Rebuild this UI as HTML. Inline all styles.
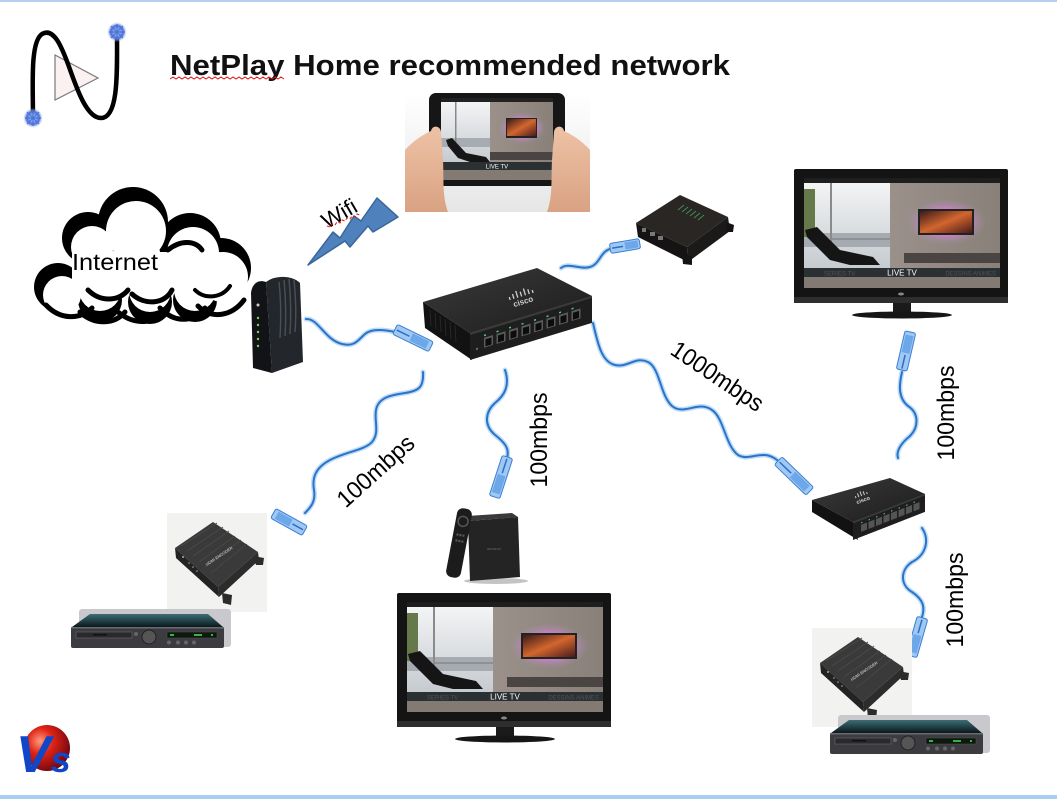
<!DOCTYPE html>
<html><head><meta charset="utf-8">
<style>
html,body{margin:0;padding:0;background:#fff;}
svg{display:block;}
text{font-family:"Liberation Sans",sans-serif;}
</style></head><body>
<svg width="1057" height="799" viewBox="0 0 1057 799" xmlns="http://www.w3.org/2000/svg">
<defs>
 <radialGradient id="star" cx="50%" cy="50%" r="50%">
  <stop offset="0" stop-color="#ffffff"/>
  <stop offset="0.3" stop-color="#8fb0f2"/>
  <stop offset="0.65" stop-color="#4a6fd8"/>
  <stop offset="1" stop-color="#c8d6f8" stop-opacity="0"/>
 </radialGradient>
 <radialGradient id="ball" cx="35%" cy="35%" r="70%">
  <stop offset="0" stop-color="#ff9a80"/>
  <stop offset="0.4" stop-color="#e02414"/>
  <stop offset="1" stop-color="#6e0612"/>
 </radialGradient>
 <linearGradient id="win" x1="0" y1="0" x2="0" y2="1">
  <stop offset="0" stop-color="#f3f4f5"/>
  <stop offset="1" stop-color="#c6cbd0"/>
 </linearGradient>
 <linearGradient id="wall" x1="0" y1="0" x2="1" y2="0">
  <stop offset="0" stop-color="#a89e97"/>
  <stop offset="1" stop-color="#8a807a"/>
 </linearGradient>
 <radialGradient id="glow" cx="50%" cy="50%" r="50%">
  <stop offset="0.45" stop-color="#e27ae6"/>
  <stop offset="1" stop-color="#a090a0" stop-opacity="0"/>
 </radialGradient>
 <linearGradient id="tvimg" x1="0" y1="0" x2="1" y2="1">
  <stop offset="0" stop-color="#3a1a18"/>
  <stop offset="0.5" stop-color="#d2662e"/>
  <stop offset="1" stop-color="#4a1c1c"/>
 </linearGradient>
 <linearGradient id="dvdtop" x1="0" y1="0" x2="0" y2="1">
  <stop offset="0" stop-color="#3d6d75"/>
  <stop offset="1" stop-color="#0a181c"/>
 </linearGradient>
 <linearGradient id="swtop" x1="0" y1="0" x2="1" y2="1">
  <stop offset="0" stop-color="#3a3a3a"/>
  <stop offset="1" stop-color="#1c1c1c"/>
 </linearGradient>
 <linearGradient id="tabbg" x1="0" y1="0" x2="0" y2="1">
  <stop offset="0" stop-color="#ffffff"/>
  <stop offset="1" stop-color="#e6e6e6"/>
 </linearGradient>
 <linearGradient id="skin" x1="0" y1="0" x2="0" y2="1">
  <stop offset="0" stop-color="#eec2a6"/>
  <stop offset="1" stop-color="#d9a283"/>
 </linearGradient>
</defs>

<!-- borders -->
<rect x="0" y="0" width="1057" height="2" fill="#b3d0f0"/>
<rect x="0" y="795" width="1057" height="4" fill="#a9cdf3"/>

<!-- top-left logo -->
<polygon points="55,55 55,100 98,78" fill="#fcf1f1" stroke="#7a7a7a" stroke-width="1.2"/>
<path d="M33,118 C33,85 30,42 42,34 C54,27 62,48 68,64 C76,86 86,118 101,118 C119,118 117,70 117,32" fill="none" stroke="#000" stroke-width="4.5" stroke-linecap="round"/>
<circle cx="117" cy="32" r="10" fill="url(#star)"/>
<circle cx="33" cy="118" r="10" fill="url(#star)"/>
<g stroke="#4a6fd8" stroke-width="1.2">
 <path d="M117,24 V40 M109,32 H125 M111,26 L123,38 M123,26 L111,38"/>
 <path d="M33,110 V126 M25,118 H41 M27,112 L39,124 M39,112 L27,124"/>
</g>

<!-- title -->
<text x="170" y="75" font-size="29" font-weight="bold" fill="#111" textLength="560" lengthAdjust="spacingAndGlyphs">NetPlay Home recommended network</text>
<path d="M170,79 l3,-2 3,2 3,-2 3,2 3,-2 3,2 3,-2 3,2 3,-2 3,2 3,-2 3,2 3,-2 3,2 3,-2 3,2 3,-2 3,2 3,-2 3,2 3,-2 3,2 3,-2 3,2 3,-2 3,2 3,-2 3,2 3,-2 3,2 3,-2 3,2 3,-2 3,2 3,-2 3,2 3,-2 3,2" fill="none" stroke="#e01010" stroke-width="1"/>

<!-- tablet -->
<rect x="405" y="93" width="185" height="119" fill="url(#tabbg)"/>
<rect x="429" y="93" width="136" height="93" rx="7" fill="#161616"/>
<rect x="441" y="98" width="112" height="82" fill="url(#wall)"/>
<rect x="441" y="102" width="49" height="60" fill="url(#win)"/>
<rect x="441" y="138" width="49" height="9" fill="#a6acb2"/>
<rect x="455" y="102" width="1.5" height="50" fill="#888"/>
<rect x="441" y="98" width="112" height="4" fill="#222"/>
<rect x="498" y="112" width="48" height="32" fill="url(#glow)"/>
<rect x="506" y="118" width="31" height="20" fill="#222"/>
<rect x="507" y="119" width="29" height="17" fill="url(#tvimg)"/>
<path d="M446,140 L452,138 L466,153 L486,157 L490,162 L470,162 L458,158 L448,146 Z" fill="#161616"/>
<rect x="490" y="152" width="63" height="8" fill="#4a4542"/>
<rect x="441" y="162" width="112" height="8" fill="#2b3033"/>
<text x="497" y="168.5" font-size="6" fill="#fff" text-anchor="middle">LIVE TV</text>
<rect x="441" y="170" width="112" height="10" fill="#847a74"/>
<path d="M405,150 C414,140 424,134 431,131 C432,125 440,125 441,132 L443,160 C444,178 442,196 448,212 L405,212 Z" fill="url(#skin)"/>
<path d="M590,150 C581,140 571,134 564,131 C563,125 555,125 554,132 L552,160 C551,178 553,196 547,212 L590,212 Z" fill="url(#skin)"/>

<!-- cloud -->
<g>
 <g fill="#000">
  <circle cx="133" cy="222" r="35"/>
  <circle cx="190" cy="244" r="31"/>
  <circle cx="221" cy="268" r="30"/>
  <circle cx="88" cy="238" r="26"/>
  <circle cx="58" cy="287" r="24"/>
  <circle cx="100" cy="300" r="22"/>
  <circle cx="150" cy="302" r="22"/>
  <circle cx="195" cy="300" r="22"/>
 </g>
 <g fill="#fff">
  <circle cx="136" cy="231" r="30"/>
  <circle cx="193" cy="253" r="26"/>
  <circle cx="223" cy="277" r="25"/>
  <circle cx="92" cy="247" r="21"/>
  <circle cx="62" cy="295" r="19"/>
  <circle cx="100" cy="290" r="21"/>
  <circle cx="150" cy="291" r="21"/>
  <circle cx="195" cy="290" r="21"/>
  <rect x="72" y="252" width="148" height="40"/>
 </g>
 <g fill="none" stroke="#000" stroke-linecap="round">
  <path d="M46,305 C60,320 80,320 92,308" stroke-width="5"/>
  <path d="M80,312 C95,326 115,324 125,312" stroke-width="5"/>
  <path d="M118,312 C135,326 155,324 165,310" stroke-width="5"/>
  <path d="M160,308 C175,324 195,322 205,308" stroke-width="5"/>
  <path d="M198,306 C212,320 232,316 244,300" stroke-width="5"/>
  <path d="M88,290 C100,302 118,302 128,290" stroke-width="5"/>
  <path d="M132,294 C145,306 165,304 172,290" stroke-width="5"/>
  <path d="M168,250 C180,240 195,240 202,250" stroke-width="5"/>
  <path d="M195,290 C205,300 222,298 230,286" stroke-width="4"/>
 </g>
 <text x="72" y="270" font-size="23" fill="#000" textLength="86" lengthAdjust="spacingAndGlyphs">Internet</text>
</g>

<!-- wifi bolt -->
<polygon points="308,265 333,232 340,238 354,216 361,221 377,198 398,217 373,232 368,226 350,247 345,241" fill="#4f81bd" stroke="#3a6699" stroke-width="1.5" stroke-linejoin="round"/>
<text transform="translate(343,220) rotate(-30)" x="0" y="0" font-size="22" text-anchor="middle" fill="#000" textLength="37" lengthAdjust="spacingAndGlyphs">Wifi</text>
<path d="M327,226 l3,1 2,-3 3,1 2,-3 3,1 2,-3 3,1 2,-3 3,1 2,-3 3,1 2,-3 3,1" fill="none" stroke="#e01010" stroke-width="1" stroke-dasharray="3,2"/>

<!-- modem -->
<path d="M266,282 C275,275 292,275 300,283 L303,362 L272,373 Z" fill="#23272c"/>
<path d="M251,293 C252,284 258,279 266,282 L272,373 L253,368 Z" fill="#111316"/>
<g stroke="#4a4f57" stroke-width="1.4" fill="none">
 <path d="M279,282 C281,300 281,320 280,338"/>
 <path d="M284,280 C286,300 286,320 285,336"/>
 <path d="M289,279 C291,300 291,320 290,334"/>
 <path d="M294,280 C296,300 296,320 295,332"/>
</g>
<g fill="#7fcf5a">
 <circle cx="258" cy="318" r="1.2"/><circle cx="258" cy="325" r="1.2"/>
 <circle cx="258" cy="332" r="1.2"/><circle cx="258" cy="339" r="1.2"/><circle cx="258" cy="346" r="1.2"/>
</g>
<circle cx="258" cy="305" r="1.5" fill="#ccc"/>

<!-- cables -->
<g fill="none" stroke-linecap="round">
 <g stroke="#a9d0f5" stroke-width="5" opacity="0.75">
  <path d="M306,319 C318,318 325,340 342,344 C355,347 358,340 365,334 C372,328 385,330 395,332"/>
  <path d="M423,372 C424,388 418,391 405,393 C390,395 378,398 376,410 C374,422 380,432 372,442 C365,450 345,452 330,460 C315,468 312,478 314,490 C316,502 310,508 305,513"/>
  <path d="M505,370 C510,385 505,395 495,403 C485,412 484,425 494,434 C504,442 510,448 507,458"/>
  <path d="M593,323 C598,345 602,362 615,365 C628,368 635,356 648,362 C660,368 660,395 672,406 C684,416 698,400 712,410 C724,418 725,445 738,455 C750,462 762,448 777,460"/>
  <path d="M561,268 C568,262 580,270 590,267 C600,264 600,252 610,249"/>
  <path d="M902,372 C899,385 898,398 908,406 C920,414 918,428 910,436 C900,444 896,452 898,458"/>
  <path d="M922,528 C930,540 926,555 912,562 C900,570 900,585 912,592 C924,600 925,608 922,617"/>
 </g>
 <g stroke="#2a74c8" stroke-width="2">
  <path d="M306,319 C318,318 325,340 342,344 C355,347 358,340 365,334 C372,328 385,330 395,332"/>
  <path d="M423,372 C424,388 418,391 405,393 C390,395 378,398 376,410 C374,422 380,432 372,442 C365,450 345,452 330,460 C315,468 312,478 314,490 C316,502 310,508 305,513"/>
  <path d="M505,370 C510,385 505,395 495,403 C485,412 484,425 494,434 C504,442 510,448 507,458"/>
  <path d="M593,323 C598,345 602,362 615,365 C628,368 635,356 648,362 C660,368 660,395 672,406 C684,416 698,400 712,410 C724,418 725,445 738,455 C750,462 762,448 777,460"/>
  <path d="M561,268 C568,262 580,270 590,267 C600,264 600,252 610,249"/>
  <path d="M902,372 C899,385 898,398 908,406 C920,414 918,428 910,436 C900,444 896,452 898,458"/>
  <path d="M922,528 C930,540 926,555 912,562 C900,570 900,585 912,592 C924,600 925,608 922,617"/>
 </g>
</g>
<!-- connectors -->
<g>
 <g transform="translate(413,338) rotate(26)"><rect x="-20" y="-5.5" width="40" height="11" rx="2" fill="#9fc8f4" stroke="#3a7fd0"/><rect x="-2" y="-4" width="18" height="8" fill="#5f9fe6" opacity=".8"/><line x1="-18" y1="0" x2="-4" y2="0" stroke="#2a6fc4" stroke-width="1.5"/></g>
 <g transform="translate(289,522) rotate(-151)"><rect x="-18" y="-5.5" width="36" height="11" rx="2" fill="#9fc8f4" stroke="#3a7fd0"/><rect x="-2" y="-4" width="16" height="8" fill="#5f9fe6" opacity=".8"/><line x1="-16" y1="0" x2="-4" y2="0" stroke="#2a6fc4" stroke-width="1.5"/></g>
 <g transform="translate(501,477) rotate(108)"><rect x="-21" y="-5.5" width="42" height="11" rx="2" fill="#9fc8f4" stroke="#3a7fd0"/><rect x="-2" y="-4" width="19" height="8" fill="#5f9fe6" opacity=".8"/><line x1="-19" y1="0" x2="-4" y2="0" stroke="#2a6fc4" stroke-width="1.5"/></g>
 <g transform="translate(794,476) rotate(44)"><rect x="-22" y="-5.5" width="44" height="11" rx="2" fill="#9fc8f4" stroke="#3a7fd0"/><rect x="-2" y="-4" width="20" height="8" fill="#5f9fe6" opacity=".8"/><line x1="-20" y1="0" x2="-4" y2="0" stroke="#2a6fc4" stroke-width="1.5"/></g>
 <g transform="translate(625,246) rotate(-9.5)"><rect x="-15" y="-5" width="30" height="10" rx="2" fill="#9fc8f4" stroke="#3a7fd0"/><rect x="0" y="-3.5" width="13" height="7" fill="#5f9fe6" opacity=".8"/><line x1="-13" y1="0" x2="-2" y2="0" stroke="#2a6fc4" stroke-width="1.5"/></g>
 <g transform="translate(906,351) rotate(-77)"><rect x="-19.5" y="-5.5" width="39" height="11" rx="2" fill="#9fc8f4" stroke="#3a7fd0"/><rect x="-2" y="-4" width="18" height="8" fill="#5f9fe6" opacity=".8"/><line x1="-18" y1="0" x2="-4" y2="0" stroke="#2a6fc4" stroke-width="1.5"/></g>
 <g transform="translate(917,637) rotate(106)"><rect x="-20" y="-5.5" width="40" height="11" rx="2" fill="#9fc8f4" stroke="#3a7fd0"/><rect x="-2" y="-4" width="18" height="8" fill="#5f9fe6" opacity=".8"/><line x1="-18" y1="0" x2="-4" y2="0" stroke="#2a6fc4" stroke-width="1.5"/></g>
</g>

<!-- main cisco switch -->
<polygon points="423,302 537,268 592,296 470,333" fill="url(#swtop)"/>
<polygon points="423,302 470,333 472,360 425,328" fill="#121212"/>
<g stroke="#2c2c2c" stroke-width="0.8">
 <line x1="430" y1="310" x2="431" y2="326"/><line x1="435" y1="313" x2="436" y2="329"/>
 <line x1="440" y1="316" x2="441" y2="332"/><line x1="445" y1="319" x2="446" y2="336"/>
 <line x1="450" y1="322" x2="451" y2="339"/><line x1="455" y1="325" x2="456" y2="342"/>
</g>
<g transform="translate(470,333) skewY(-16.9)">
 <rect x="0" y="0" width="122" height="27" fill="#1e1e1e"/>
 <rect x="0" y="0" width="122" height="2" fill="#3a3a3a"/>
 <g fill="#5a5a5a">
  <rect x="14" y="9" width="9" height="10"/><rect x="26.5" y="9" width="9" height="10"/>
  <rect x="39" y="9" width="9" height="10"/><rect x="51.5" y="9" width="9" height="10"/>
  <rect x="64" y="9" width="9" height="10"/><rect x="76.5" y="9" width="9" height="10"/>
  <rect x="89" y="9" width="9" height="10"/><rect x="101.5" y="9" width="9" height="10"/>
 </g>
 <g fill="#0c0c0c">
  <rect x="15.5" y="11" width="6" height="7"/><rect x="28" y="11" width="6" height="7"/>
  <rect x="40.5" y="11" width="6" height="7"/><rect x="53" y="11" width="6" height="7"/>
  <rect x="65.5" y="11" width="6" height="7"/><rect x="78" y="11" width="6" height="7"/>
  <rect x="90.5" y="11" width="6" height="7"/><rect x="103" y="11" width="6" height="7"/>
 </g>
 <g fill="#4fd07a">
  <rect x="14" y="6" width="2" height="1.5"/><rect x="26.5" y="6" width="2" height="1.5"/>
  <rect x="39" y="6" width="2" height="1.5"/><rect x="51.5" y="6" width="2" height="1.5"/>
  <rect x="64" y="6" width="2" height="1.5"/><rect x="76.5" y="6" width="2" height="1.5"/>
  <rect x="89" y="6" width="2" height="1.5"/><rect x="101.5" y="6" width="2" height="1.5"/>
 </g>
 <circle cx="7" cy="18" r="1.2" fill="#666"/>
</g>
<g transform="translate(520,298) rotate(-17)">
 <g stroke="#cfcfcf" stroke-width="1.3">
  <line x1="-10" y1="-4" x2="-10" y2="-1"/><line x1="-6" y1="-6" x2="-6" y2="-1"/>
  <line x1="-2" y1="-8" x2="-2" y2="-1"/><line x1="2" y1="-6" x2="2" y2="-1"/>
  <line x1="6" y1="-8" x2="6" y2="-1"/><line x1="10" y1="-6" x2="10" y2="-1"/>
  <line x1="14" y1="-4" x2="14" y2="-1"/>
 </g>
 <text x="2" y="7" font-size="8" font-weight="bold" fill="#cfcfcf" text-anchor="middle">cisco</text>
</g>

<!-- small top box -->
<polygon points="636,223 680,195 728,217 687,247" fill="#2a2624"/>
<polygon points="636,223 687,247 688,262 638,237" fill="#151313"/>
<polygon points="687,247 728,217 730,231 688,262" fill="#1c1a19"/>
<polygon points="726,222 734,225 733,232 727,232" fill="#151313"/>
<polygon points="682,254 692,256 692,265 683,264" fill="#151313"/>
<g stroke="#3f8f58" stroke-width="1">
 <line x1="684" y1="205" x2="678" y2="210"/><line x1="688" y1="207" x2="682" y2="212"/>
 <line x1="692" y1="209" x2="686" y2="214"/><line x1="696" y1="211" x2="690" y2="216"/>
 <line x1="700" y1="213" x2="694" y2="218"/><line x1="704" y1="215" x2="698" y2="220"/>
</g>
<g fill="#777"><rect x="642" y="228" width="4" height="4"/><rect x="650" y="232" width="5" height="4"/><rect x="658" y="236" width="5" height="4"/></g>

<!-- top right TV -->
<g transform="translate(794,169)">
 <rect x="0" y="0" width="214" height="134" rx="2" fill="#141414"/>
 <rect x="0" y="128" width="214" height="6" fill="#2e2e2e"/>
 <rect x="10" y="9" width="196" height="110" fill="url(#wall)"/>
 <rect x="10" y="14" width="86" height="85" fill="url(#win)"/>
 <rect x="10" y="64" width="86" height="14" fill="#a5abb1"/>
 <rect x="10" y="20" width="11" height="48" fill="#66794a"/>
 <rect x="36" y="14" width="2" height="70" fill="#8a8a8a"/>
 <line x1="38" y1="70" x2="96" y2="70" stroke="#777" stroke-width="1"/>
 <rect x="10" y="9" width="196" height="5" fill="#1e1e1e"/>
 <rect x="112" y="30" width="80" height="46" fill="url(#glow)"/>
 <rect x="124" y="40" width="56" height="26" fill="#222"/>
 <rect x="126" y="42" width="52" height="22" fill="url(#tvimg)"/>
 <rect x="110" y="84" width="96" height="10" fill="#4a4542"/>
 <path d="M11,61 L23,58 L46,81 L79,88 L86,96 L56,96 L36,91 L13,68 Z" fill="#151515"/>
 <rect x="10" y="99" width="196" height="9" fill="#2b3033"/>
 <text x="108" y="106.5" font-size="8" fill="#fff" text-anchor="middle">LIVE TV</text>
 <text x="30" y="106.5" font-size="6" fill="#4e5558">SERIES TV</text>
 <text x="202" y="106.5" font-size="6" fill="#4e5558" text-anchor="end">DESSINS ANIMES</text>
 <rect x="10" y="108" width="196" height="11" fill="#837a74"/>
 <ellipse cx="107" cy="125" rx="3" ry="1.5" fill="#888"/>
 <rect x="99" y="134" width="18" height="10" fill="#1a1a1a"/>
 <ellipse cx="108" cy="146" rx="50" ry="3.5" fill="#161616"/>
</g>

<!-- bottom center TV -->
<g transform="translate(397,593)">
 <rect x="0" y="0" width="214" height="134" rx="2" fill="#141414"/>
 <rect x="0" y="128" width="214" height="6" fill="#2e2e2e"/>
 <rect x="10" y="9" width="196" height="110" fill="url(#wall)"/>
 <rect x="10" y="14" width="86" height="85" fill="url(#win)"/>
 <rect x="10" y="64" width="86" height="14" fill="#a5abb1"/>
 <rect x="10" y="20" width="11" height="48" fill="#66794a"/>
 <rect x="36" y="14" width="2" height="70" fill="#8a8a8a"/>
 <line x1="38" y1="70" x2="96" y2="70" stroke="#777" stroke-width="1"/>
 <rect x="10" y="9" width="196" height="5" fill="#1e1e1e"/>
 <rect x="112" y="30" width="80" height="46" fill="url(#glow)"/>
 <rect x="124" y="40" width="56" height="26" fill="#222"/>
 <rect x="126" y="42" width="52" height="22" fill="url(#tvimg)"/>
 <rect x="110" y="84" width="96" height="10" fill="#4a4542"/>
 <path d="M11,61 L23,58 L46,81 L79,88 L86,96 L56,96 L36,91 L13,68 Z" fill="#151515"/>
 <rect x="10" y="99" width="196" height="9" fill="#2b3033"/>
 <text x="108" y="106.5" font-size="8" fill="#fff" text-anchor="middle">LIVE TV</text>
 <text x="30" y="106.5" font-size="6" fill="#4e5558">SERIES TV</text>
 <text x="202" y="106.5" font-size="6" fill="#4e5558" text-anchor="end">DESSINS ANIMES</text>
 <rect x="10" y="108" width="196" height="11" fill="#837a74"/>
 <ellipse cx="107" cy="125" rx="3" ry="1.5" fill="#888"/>
 <rect x="99" y="134" width="18" height="10" fill="#1a1a1a"/>
 <ellipse cx="108" cy="146" rx="50" ry="3.5" fill="#161616"/>
</g>

<!-- second switch -->
<polygon points="812,500 890,478 925,494 853,522" fill="url(#swtop)"/>
<polygon points="812,500 853,522 858,540 812,512" fill="#121212"/>
<g transform="translate(853,522) skewY(-21.3)">
 <rect x="0" y="0" width="72" height="18" fill="#1e1e1e"/>
 <rect x="0" y="0" width="72" height="1.5" fill="#3a3a3a"/>
 <g fill="#555">
  <rect x="8" y="6" width="6" height="7"/><rect x="15.5" y="6" width="6" height="7"/>
  <rect x="23" y="6" width="6" height="7"/><rect x="30.5" y="6" width="6" height="7"/>
  <rect x="38" y="6" width="6" height="7"/><rect x="45.5" y="6" width="6" height="7"/>
  <rect x="53" y="6" width="6" height="7"/><rect x="60.5" y="6" width="6" height="7"/>
 </g>
 <g fill="#4fd07a">
  <rect x="8" y="3.5" width="1.5" height="1"/><rect x="15.5" y="3.5" width="1.5" height="1"/>
  <rect x="23" y="3.5" width="1.5" height="1"/><rect x="30.5" y="3.5" width="1.5" height="1"/>
  <rect x="38" y="3.5" width="1.5" height="1"/><rect x="45.5" y="3.5" width="1.5" height="1"/>
  <rect x="53" y="3.5" width="1.5" height="1"/><rect x="60.5" y="3.5" width="1.5" height="1"/>
 </g>
</g>
<g transform="translate(862,497) rotate(-20)">
 <g stroke="#cfcfcf" stroke-width="1"><line x1="-6" y1="-3" x2="-6" y2="-1"/><line x1="-3" y1="-5" x2="-3" y2="-1"/><line x1="0" y1="-6" x2="0" y2="-1"/><line x1="3" y1="-5" x2="3" y2="-1"/><line x1="6" y1="-3" x2="6" y2="-1"/></g>
 <text x="0" y="5" font-size="5.5" font-weight="bold" fill="#cfcfcf" text-anchor="middle">cisco</text>
</g>

<!-- fire tv -->
<ellipse cx="496" cy="581" rx="32" ry="3" fill="#c4c4c4"/>
<polygon points="467,516 512,513 518,517 468,521" fill="#3a3a3a"/>
<polygon points="468,521 518,517 520,577 470,581" fill="#242424"/>
<text x="494" y="550" font-size="4" fill="#666" text-anchor="middle">amazon</text>
<g transform="translate(459,543) rotate(10.7)">
 <rect x="-7.5" y="-35" width="15" height="70" rx="6" fill="#1c1c1c"/>
 <circle cx="0" cy="-22" r="5" fill="none" stroke="#555" stroke-width="1.5"/>
 <g fill="#555"><circle cx="-3" cy="-8" r="1.2"/><circle cx="0" cy="-8" r="1.2"/><circle cx="3" cy="-8" r="1.2"/><circle cx="-3" cy="-2" r="1.2"/><circle cx="0" cy="-2" r="1.2"/><circle cx="3" cy="-2" r="1.2"/></g>
</g>

<!-- bottom-left encoder + dvd -->
<g transform="translate(167,513)">
 <rect x="0" y="0" width="100" height="99" fill="#f2f2f0"/>
 <polygon points="8,35 46,9 91,39 51,74" fill="#3a3a3a"/>
 <polygon points="8,35 51,74 52,84 9,45" fill="#232323"/>
 <polygon points="51,74 91,39 92,47 52,84" fill="#2c2c2c"/>
 <polygon points="86,43 97,45 96,52 89,52" fill="#2c2c2c"/>
 <polygon points="55,80 65,82 64,92 56,90" fill="#2c2c2c"/>
 <g stroke="#4a4a4a" stroke-width="0.8"><line x1="14" y1="33" x2="50" y2="10"/><line x1="20" y1="38" x2="56" y2="14"/><line x1="26" y1="43" x2="62" y2="18"/><line x1="32" y1="49" x2="68" y2="23"/><line x1="38" y1="54" x2="74" y2="27"/><line x1="44" y1="60" x2="80" y2="31"/></g>
 <text transform="translate(40,53) rotate(-34)" font-size="4" fill="#ddd">HDMI ENCODER</text>
 <g fill="#aaa"><circle cx="16" cy="44" r="1"/><circle cx="22" cy="50" r="0.8"/><circle cx="26" cy="54" r="0.8"/><circle cx="30" cy="58" r="0.8"/></g>
</g>
<g transform="translate(71,612)">
 <rect x="8" y="-3" width="152" height="38" rx="3" fill="#c9c9cd"/>
 <polygon points="1,15 19,2 137,2 152,15" fill="url(#dvdtop)"/>
 <rect x="0" y="15" width="153" height="21" rx="2" fill="#3c3b40"/>
 <rect x="0" y="15" width="153" height="1.5" fill="#6a6a70"/>
 <rect x="5" y="20" width="56" height="6" fill="#2a2a2e" stroke="#6a6a6e" stroke-width="0.6"/>
 <rect x="22" y="22" width="14" height="1.5" fill="#111"/>
 <circle cx="65" cy="22" r="2" fill="#666"/>
 <circle cx="78" cy="25" r="7" fill="#555" stroke="#222" stroke-width="1"/>
 <rect x="96" y="20" width="50" height="6" fill="#0c1a0e" stroke="#555" stroke-width="0.5"/>
 <g fill="#3fae4a"><rect x="99" y="22" width="4" height="2"/><rect x="123" y="22" width="8" height="2"/><rect x="140" y="22" width="2" height="2"/></g>
 <g fill="#666"><circle cx="98" cy="30.5" r="2"/><circle cx="107" cy="30.5" r="2"/><circle cx="115" cy="30.5" r="2"/><circle cx="123" cy="30.5" r="2"/></g>
</g>

<!-- bottom-right encoder + dvd -->
<g transform="translate(812,628)">
 <rect x="0" y="0" width="100" height="99" fill="#f2f2f0"/>
 <polygon points="8,35 46,9 91,39 51,74" fill="#3a3a3a"/>
 <polygon points="8,35 51,74 52,84 9,45" fill="#232323"/>
 <polygon points="51,74 91,39 92,47 52,84" fill="#2c2c2c"/>
 <polygon points="86,43 97,45 96,52 89,52" fill="#2c2c2c"/>
 <polygon points="55,80 65,82 64,92 56,90" fill="#2c2c2c"/>
 <g stroke="#4a4a4a" stroke-width="0.8"><line x1="14" y1="33" x2="50" y2="10"/><line x1="20" y1="38" x2="56" y2="14"/><line x1="26" y1="43" x2="62" y2="18"/><line x1="32" y1="49" x2="68" y2="23"/><line x1="38" y1="54" x2="74" y2="27"/><line x1="44" y1="60" x2="80" y2="31"/></g>
 <text transform="translate(40,53) rotate(-34)" font-size="4" fill="#ddd">HDMI ENCODER</text>
 <g fill="#aaa"><circle cx="16" cy="44" r="1"/><circle cx="22" cy="50" r="0.8"/><circle cx="26" cy="54" r="0.8"/><circle cx="30" cy="58" r="0.8"/></g>
</g>
<g transform="translate(830,718)">
 <rect x="8" y="-3" width="152" height="38" rx="3" fill="#c9c9cd"/>
 <polygon points="1,15 19,2 137,2 152,15" fill="url(#dvdtop)"/>
 <rect x="0" y="15" width="153" height="21" rx="2" fill="#3c3b40"/>
 <rect x="0" y="15" width="153" height="1.5" fill="#6a6a70"/>
 <rect x="5" y="20" width="56" height="6" fill="#2a2a2e" stroke="#6a6a6e" stroke-width="0.6"/>
 <rect x="22" y="22" width="14" height="1.5" fill="#111"/>
 <circle cx="65" cy="22" r="2" fill="#666"/>
 <circle cx="78" cy="25" r="7" fill="#555" stroke="#222" stroke-width="1"/>
 <rect x="96" y="20" width="50" height="6" fill="#0c1a0e" stroke="#555" stroke-width="0.5"/>
 <g fill="#3fae4a"><rect x="99" y="22" width="4" height="2"/><rect x="123" y="22" width="8" height="2"/><rect x="140" y="22" width="2" height="2"/></g>
 <g fill="#666"><circle cx="98" cy="30.5" r="2"/><circle cx="107" cy="30.5" r="2"/><circle cx="115" cy="30.5" r="2"/><circle cx="123" cy="30.5" r="2"/></g>
</g>

<!-- speed labels -->
<g font-size="24" fill="#000">
 <text transform="translate(954,413) rotate(-90)" text-anchor="middle" textLength="95" lengthAdjust="spacingAndGlyphs">100mbps</text>
 <text transform="translate(963,600) rotate(-90)" text-anchor="middle" textLength="95" lengthAdjust="spacingAndGlyphs">100mbps</text>
 <text transform="translate(547,440) rotate(-90)" text-anchor="middle" textLength="95" lengthAdjust="spacingAndGlyphs">100mbps</text>
 <text transform="translate(381,477) rotate(-42)" text-anchor="middle" textLength="95" lengthAdjust="spacingAndGlyphs">100mbps</text>
 <text transform="translate(713,383) rotate(34)" text-anchor="middle" textLength="106" lengthAdjust="spacingAndGlyphs">1000mbps</text>
</g>

<!-- VS logo -->
<circle cx="47" cy="748" r="23" fill="url(#ball)"/>
<text x="16" y="772" font-family="'Liberation Serif',serif" font-style="italic" font-weight="bold" font-size="52" fill="#1046c8">V<tspan font-size="36">s</tspan></text>
</svg>
</body></html>
